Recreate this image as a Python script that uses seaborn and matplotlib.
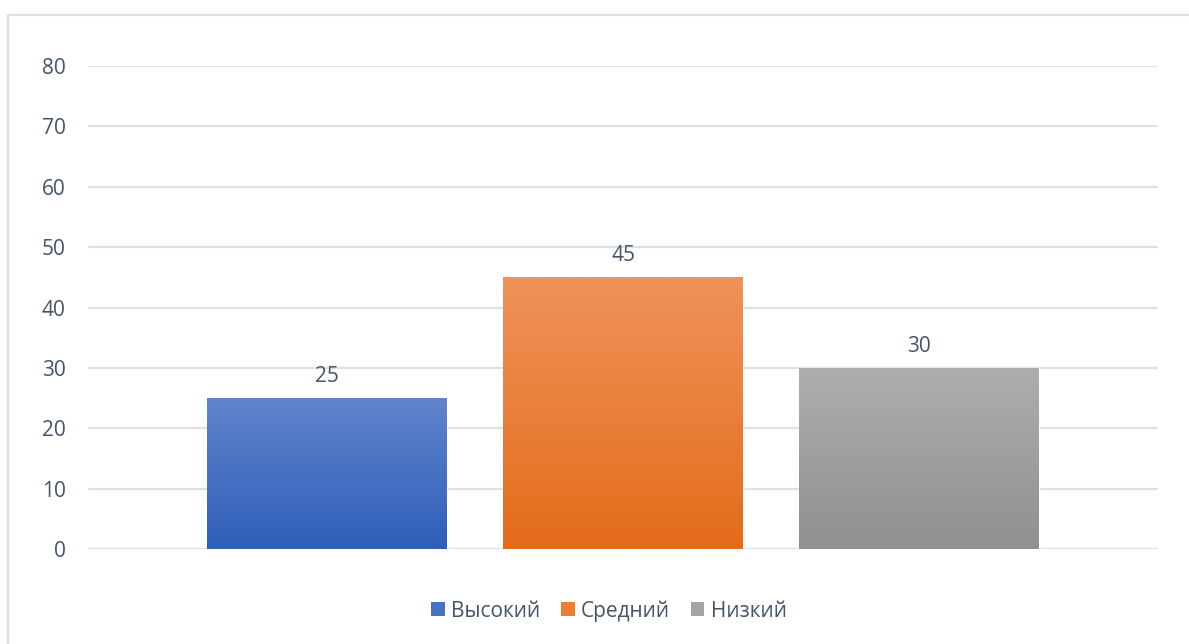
import numpy as np
import pandas as pd
import seaborn as sns
import matplotlib.pyplot as plt
from matplotlib.patches import Patch, Rectangle
from matplotlib.colors import LinearSegmentedColormap

# data
levels = ['Высокий', 'Средний', 'Низкий']
values = [25, 45, 30]
group = ['']

# colours: legend/base, gradient top, gradient bottom
base_colors = ['#4472C4', '#ED7D31', '#A5A5A5']
top_colors = ['#6184CC', '#F0925A', '#AEAEAE']
bottom_colors = ['#2E5EB9', '#E36C1A', '#909090']

text_color = '#44546A'
grid_color = '#DDE1E7'

sns.set_style('white')
plt.rcParams['font.family'] = ['Open Sans', 'DejaVu Sans']

df = pd.DataFrame({'group': group * len(levels), 'level': levels, 'value': values})

fig = plt.figure(figsize=(11.89, 6.44), dpi=100)
ax = fig.add_axes([88 / 1189, 1 - 549 / 644, (1158 - 88) / 1189, (549 - 66) / 644])

sns.barplot(data=df, x='group', y='value', hue='level', hue_order=levels,
            palette=base_colors, width=0.83, gap=0.19, legend=False, ax=ax,
            zorder=2)

# gradient fill over each bar
for i, cont in enumerate(ax.containers):
    cmap = LinearSegmentedColormap.from_list('g', [bottom_colors[i], top_colors[i]])
    for bar in cont:
        x0, y0 = bar.get_x(), bar.get_y()
        w, h = bar.get_width(), bar.get_height()
        grad = np.linspace(0, 1, 256).reshape(-1, 1)
        im = ax.imshow(grad, extent=[x0, x0 + w, y0, y0 + h], origin='lower',
                       cmap=cmap, aspect='auto', zorder=3)
        im.set_clip_path(bar)
    ax.bar_label(cont, padding=8, fontsize=15, color=text_color)

ax.set_xlim(-0.5, 0.5)
ax.set_ylim(0, 80)
ax.set_yticks(np.arange(0, 81, 10))
ax.set_xticks([])
ax.set_xlabel('')
ax.set_ylabel('')
ax.tick_params(axis='y', length=0, pad=16, labelsize=15, labelcolor=text_color)
ax.yaxis.grid(True, color=grid_color, linewidth=1.6, zorder=0)
ax.set_axisbelow(True)
sns.despine(ax=ax, left=True, bottom=True)

handles = [Patch(facecolor=c, edgecolor='none') for c in base_colors]
fig.legend(handles, levels, loc='center', bbox_to_anchor=(609 / 1189, 1 - 611 / 644),
           ncol=3, frameon=False, fontsize=15, labelcolor=text_color,
           handlelength=0.65, handleheight=0.65, handletextpad=0.3,
           columnspacing=1.0)

# chart area border
fig.add_artist(Rectangle((8 / 1189, -0.1), 1.2, 1.1 - 15 / 644,
                         transform=fig.transFigure, fill=False,
                         edgecolor=grid_color, linewidth=1.6))

plt.savefig('out.png', dpi=100)
